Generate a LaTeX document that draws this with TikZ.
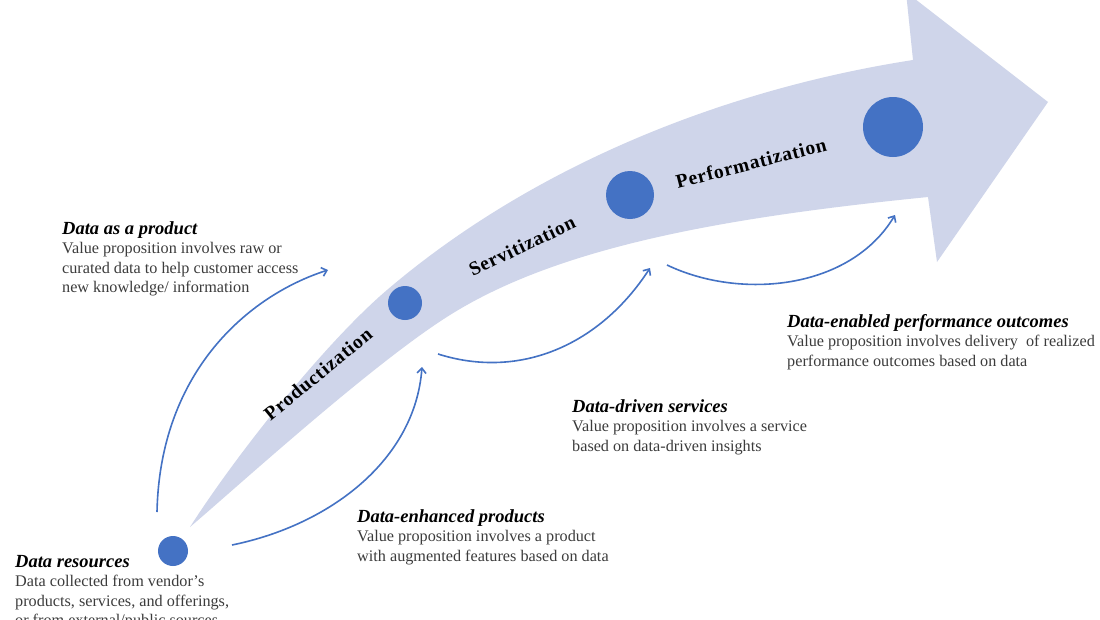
\documentclass[tikz,border=0pt]{standalone}
\usepackage{fontspec}
\setmainfont{Liberation Serif}
\newfontfamily\bandfont{Liberation Serif}[LetterSpace=4]
\usetikzlibrary{arrows.meta}
\definecolor{bandfill}{HTML}{CFD5EA}
\definecolor{dotblue}{HTML}{4472C4}
\definecolor{bodygray}{HTML}{3C3C3C}
\newcommand\ttl[1]{{\color{black}\bfseries\itshape\fontsize{18.5}{19.5}\selectfont #1}}
\tikzset{
  dot/.style={circle, fill=dotblue, inner sep=0pt, minimum size=#1},
  flow/.style={draw=dotblue, line width=1.6pt, -{Straight Barb[length=5pt,width=9pt]}},
  desc/.style={anchor=north west, inner sep=0pt, align=left, text=bodygray,
               font=\fontsize{16.2}{19.5}\selectfont},
  bandlabel/.style={font=\bandfont\bfseries\fontsize{19.5}{20}\selectfont, text=black, inner sep=0pt}
}
\begin{document}
\begin{tikzpicture}[x=1pt, y=-1pt]
\clip (0,0) rectangle (1100,619);
\fill[white] (0,0) rectangle (1100,619);
% big curved arrow
\fill[bandfill] (190,527) .. controls (238,452) and (326,342) .. (387,290)
  .. controls (530,168) and (720,90) .. (913,60)
  -- (906,-8) -- (1048,102) -- (937,262) -- (928,197)
  .. controls (728,217) and (560,246) .. (450,315)
  .. controls (373,363) and (236,488) .. (190,527)
  -- cycle;
% dots
\node[dot=30pt] (d0) at (173,551) {};
\node[dot=34pt] (d1) at (405,303) {};
\node[dot=48pt] (d2) at (630,195) {};
\node[dot=60pt] (d3) at (893,127) {};
% band labels
\node[bandlabel, rotate=39.4] (lp) at (318,374) {Productization};
\node[bandlabel, rotate=25.5] (ls) at (522,246) {Servitization};
\node[bandlabel, rotate=14.4] (lf) at (751,163) {Performatization};
% text blocks
\node[desc] (tres) at (15,555) {\ttl{Data resources}\\Data collected from vendor's\\products, services, and offerings,\\or from external/public sources};
\node[desc] (tprod) at (62,221) {\ttl{Data as a product}\\Value proposition involves raw or\\curated data to help customer access\\new knowledge/ information};
\node[desc] (tenh) at (357,509) {\ttl{Data-enhanced products}\\Value proposition involves a product\\with augmented features based on data};
\node[desc] (tserv) at (572,399) {\ttl{Data-driven services}\\Value proposition involves a service\\based on data-driven insights};
\node[desc] (tperf) at (787,314) {\ttl{Data-enabled performance outcomes}\\Value proposition involves delivery\ \ of realized\\performance outcomes based on data};
% connectors
\coordinate (a0) at (157,512); \coordinate (a1) at (328,270);
\coordinate (b0) at (232,545); \coordinate (b1) at (422,367);
\coordinate (c0) at (438,354); \coordinate (c1) at (650,268);
\coordinate (e0) at (667,265); \coordinate (e1) at (895,215);
\draw[flow] (a0) .. controls (160,370) and (250,295) .. (a1);
\draw[flow] (b0) .. controls (330,525) and (415,460) .. (b1);
\draw[flow] (c0) .. controls (520,380) and (600,345) .. (c1);
\draw[flow] (e0) .. controls (740,300) and (850,290) .. (e1);
\end{tikzpicture}
\end{document}
